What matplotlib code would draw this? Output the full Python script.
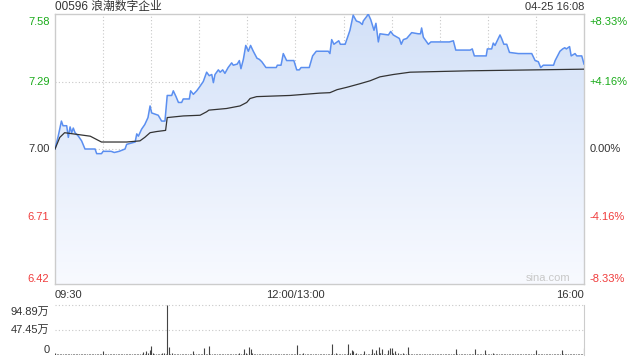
import matplotlib
matplotlib.use("Agg")
import matplotlib.pyplot as plt
import numpy as np
from matplotlib.patches import Polygon
from matplotlib.colors import LinearSegmentedColormap
from matplotlib.transforms import blended_transform_factory, offset_copy

plt.rcParams['font.family'] = ['Liberation Sans', 'Noto Sans CJK SC', 'DejaVu Sans']

title = "00596 浪潮数字企业"
stamp = "04-25 16:08"
prev_close = 7.00
price_ticks = [7.58, 7.29, 7.00, 6.71, 6.42]
pct_labels = ["+8.33%", "+4.16%", "0.00%", "-4.16%", "-8.33%"]
time_labels = ["09:30", "12:00/13:00", "16:00"]
vol_ticks = [94.89, 47.45, 0]
vol_labels = ["94.89万", "47.45万", "0"]

# minute index (0 = 09:30, 150 = 12:00/13:00, 330 = 16:00) and price
price_min = [0, 2, 4, 5, 7.3, 8.3, 9.4, 10.4, 11.4, 12.5, 14.6, 16.6, 18.7, 25, 26, 29,
             30, 35, 37, 40, 43.7, 44.7, 50, 51, 52, 54, 56, 58, 59.3, 60.3, 62.4, 64.4,
             66.5, 68.6, 70, 72.8, 73.8, 75.5, 77, 79, 80, 83.8, 84.6, 86.3, 88.4, 90,
             92.5, 94.6, 96.2, 97.8, 98.8, 99.8, 101.9, 103, 104.6, 106, 108, 110.2,
             111.2, 113.7, 115, 116, 117.5, 119, 120.6, 122, 123.7, 126, 127.5, 129,
             131.6, 138, 138.7, 141, 142.4, 144.5, 149, 150.8, 152.4, 153.5, 158.6,
             160.7, 163, 170.5, 171.5, 172.6, 174, 176, 177, 178, 181, 184, 186, 188,
             190, 191.7, 192.3, 194.5, 195.4, 197, 199, 200.2, 201.7, 202.7, 208,
             209.4, 211, 214.8, 216, 217.3, 219.4, 222.5, 226.6, 228, 228.7, 229.8,
             232.9, 234.5, 246, 248.5, 250, 259, 260.3, 261.6, 269, 269.7, 272.4,
             273.4, 274.5, 275.5, 277.6, 278.6, 280, 281.8, 283.5, 289, 297.4, 299.5,
             301.5, 303, 304.6, 311, 312, 315, 316.7, 318, 319, 321, 322, 324.4, 325.5,
             328.6, 330]
price_val = [7.00, 7.055, 7.12, 7.10, 7.10, 7.05, 7.095, 7.07, 7.09, 7.07, 7.055, 7.035,
             7.00, 7.00, 6.98, 6.98, 6.99, 6.99, 6.985, 6.99, 7.00, 7.02, 7.03, 7.065,
             7.055, 7.085, 7.105, 7.135, 7.185, 7.155, 7.15, 7.145, 7.12, 7.12, 7.23,
             7.23, 7.25, 7.225, 7.20, 7.20, 7.215, 7.215, 7.25, 7.235, 7.25, 7.265,
             7.29, 7.33, 7.315, 7.32, 7.285, 7.32, 7.34, 7.33, 7.34, 7.325, 7.35, 7.37,
             7.36, 7.365, 7.38, 7.345, 7.385, 7.445, 7.42, 7.445, 7.42, 7.39, 7.385,
             7.375, 7.35, 7.35, 7.36, 7.36, 7.41, 7.38, 7.38, 7.34, 7.34, 7.35, 7.35,
             7.40, 7.42, 7.42, 7.41, 7.47, 7.45, 7.46, 7.465, 7.45, 7.45, 7.51, 7.575,
             7.55, 7.545, 7.535, 7.55, 7.57, 7.58, 7.555, 7.51, 7.54, 7.46, 7.495,
             7.49, 7.505, 7.49, 7.475, 7.45, 7.47, 7.475, 7.50, 7.495, 7.495, 7.52,
             7.48, 7.45, 7.46, 7.46, 7.465, 7.425, 7.425, 7.43, 7.40, 7.40, 7.43, 7.43,
             7.455, 7.445, 7.46, 7.49, 7.475, 7.45, 7.45, 7.415, 7.41, 7.41, 7.38,
             7.375, 7.35, 7.36, 7.36, 7.38, 7.42, 7.43, 7.435, 7.43, 7.44, 7.40, 7.41,
             7.40, 7.40, 7.365]

avg_min = [0, 3, 6, 13.5, 22, 29, 44.7, 53, 56, 59.3, 63.4, 69, 70, 80, 90.5, 94.6, 96,
           107, 115.4, 119.6, 121.7, 125.8, 146.6, 165, 171.5, 176, 182, 190, 196.5,
           202.7, 211, 221.5, 240, 259, 300, 330]
avg_val = [7.00, 7.05, 7.07, 7.063, 7.055, 7.03, 7.03, 7.035, 7.05, 7.07, 7.075, 7.08,
           7.135, 7.142, 7.145, 7.16, 7.167, 7.174, 7.185, 7.20, 7.217, 7.225, 7.23,
           7.24, 7.242, 7.255, 7.265, 7.28, 7.293, 7.31, 7.32, 7.33, 7.333, 7.336,
           7.34, 7.343]

# volume per minute, in 万 shares (minute 0..330)
volume = [
    3, 2, 2, 1.5, 2, 1, 2, 1.5, 2, 1,
    1.5, 2, 1, 2, 1.5, 1, 2, 1, 1.5, 2,
    1, 1.5, 2, 1, 1.5, 1, 2, 1.5, 1, 2,
    8, 2, 1.5, 1, 2, 1, 1.5, 1, 1, 1.5,
    1, 1, 1.5, 1, 1, 2, 1, 1.5, 1, 1,
    1, 1.5, 1, 2, 1, 6, 2, 7, 3, 9.5,
    17.6, 3, 2, 1.5, 1, 2, 1.5, 3, 4, 2,
    94.89, 14.6, 2, 4, 1.5, 2, 1, 1.5, 1, 2,
    1.5, 1, 2, 1, 1.5, 2, 8, 1.5, 1, 2,
    1.5, 1, 2, 14, 2, 1.5, 17.7, 2, 1.5, 1,
    2, 1, 1.5, 1, 2, 1.5, 1, 1, 2, 1,
    1, 1.5, 1, 1, 2, 3, 1.5, 2, 11, 3,
    2, 16, 11, 4, 2, 1.5, 1, 2, 1.5, 1,
    1, 1.5, 1, 2, 1, 1.5, 1, 1, 1.5, 1,
    1, 2, 1, 1.5, 1, 1, 1.5, 1, 2, 1,
    1.5, 19, 2, 1, 1.5, 3, 1, 2, 1.5, 1,
    1, 1.5, 2, 1, 1.5, 1, 2, 1, 1.5, 1,
    1, 1.5, 2, 21, 2, 3, 2, 1.5, 2, 1.5,
    2, 1.5, 2, 20, 3, 9, 7, 2, 3, 2,
    1.5, 2, 1.5, 7, 2, 1.5, 2, 1.5, 11, 3,
    10, 2, 16, 3, 11, 2, 1.5, 2, 10, 13,
    12.6, 3, 8, 2, 3, 1.5, 2, 3, 1.5, 2,
    16, 2, 1.5, 2, 1, 1.5, 2, 1, 1.5, 1,
    1.5, 1, 1, 1.5, 1, 2, 1, 1.5, 1, 1,
    1, 1.5, 1, 1, 1.5, 1, 1, 1.5, 1, 1,
    11, 1.5, 1, 1, 1.5, 1, 1, 1.5, 1, 1,
    1.5, 1, 11, 2, 1.5, 1, 1, 1.5, 9, 2,
    1.5, 2, 1, 3, 2, 1.5, 1, 2, 1.5, 1,
    1.5, 1, 1, 1.5, 1, 1, 1, 1.5, 1, 1,
    1, 1.5, 1, 1, 1, 1.5, 1, 1, 1, 1.5,
    9, 2, 1.5, 1, 1, 1.5, 1, 1, 1, 1.5,
    1, 1, 1.5, 1, 1, 1, 9, 1.5, 1, 1,
    1.5, 1, 1, 1, 1.5, 1, 1, 1, 1.5, 1,
    13]

GREEN = "#1aab1a"
RED = "#f03c3c"
GREY_TXT = "#333333"
label_colors = [GREEN, GREEN, GREY_TXT, RED, RED]
GRID = "#c8c8c8"
dot = (0, (1, 2))

fig = plt.figure(figsize=(6.4, 3.6), dpi=100)
W, H = 640.0, 360.0
ax = fig.add_axes([55 / W, 1 - 284 / H, 529 / W, 270 / H])
ax.set_xlim(0, 330)
ax.set_ylim(price_ticks[-1], price_ticks[0])
for s in ax.spines.values():
    s.set_color("#cccccc")
    s.set_linewidth(1)
ax.set_xticks([])
ax.set_yticks([])

# grid
for v in price_ticks[1:-1]:
    ax.axhline(v, color=GRID, lw=0.8, ls=dot, zorder=1)
for m in range(30, 330, 30):
    ax.axvline(m, color=GRID, lw=0.8, ls=dot, zorder=1)

# gradient fill under price
ymin, ymax = price_ticks[-1], price_ticks[0]
grad = np.linspace(0, 1, 256).reshape(-1, 1)
cmap = LinearSegmentedColormap.from_list("g", ["#f8faff", "#d3e1f8"])
im = ax.imshow(grad, extent=[0, 330, ymin, ymax], origin="lower", aspect="auto",
               cmap=cmap, zorder=2)
poly = Polygon(list(zip(price_min, price_val)) + [(price_min[-1], ymin), (price_min[0], ymin)],
               closed=True, facecolor="none", edgecolor="none")
ax.add_patch(poly)
im.set_clip_path(poly)

ax.plot(price_min, price_val, color="#5b8ff0", lw=1.1, zorder=4)
ax.plot(avg_min, avg_val, color="#333333", lw=0.9, zorder=5)

# labels left / right
base = blended_transform_factory(ax.transAxes, ax.transData)
for i, (v, lab, col) in enumerate(zip(price_ticks, pct_labels, label_colors)):
    if i == 0:
        va, dy = "top", -2.5
    elif i == len(price_ticks) - 1:
        va, dy = "bottom", 0
    else:
        va, dy = "center", 0
    lt = offset_copy(base, fig=fig, x=-4, y=dy, units="points")
    rt = offset_copy(base, fig=fig, x=4, y=dy, units="points")
    ax.text(0, v, f"{v:.2f}", transform=lt, ha="right", va=va, color=col, fontsize=8)
    ax.text(1, v, lab, transform=rt, ha="left", va=va, color=col, fontsize=8)

# time labels
bt = offset_copy(blended_transform_factory(ax.transData, ax.transAxes), fig=fig, x=0, y=-4, units="points")
ax.text(0, 0, time_labels[0], transform=bt, ha="left", va="top", fontsize=8, color=GREY_TXT)
ax.text(150, 0, time_labels[1], transform=bt, ha="center", va="top", fontsize=8, color=GREY_TXT)
ax.text(330, 0, time_labels[2], transform=bt, ha="right", va="top", fontsize=8, color=GREY_TXT)

ax.text(0.975, 0.005, "sina.com", transform=ax.transAxes, ha="right", va="bottom",
        fontsize=8, color="#c8c8c8", zorder=6)

# title and stamp
fig.text(55 / W, 1 - 7 / H, title, ha="left", va="center", fontsize=8.5, color=GREY_TXT)
fig.text(584 / W, 1 - 7 / H, stamp, ha="right", va="center", fontsize=8, color=GREY_TXT)

# volume panel
vax = fig.add_axes([55 / W, 1 - 355 / H, 529 / W, 50 / H])
vax.set_xlim(0, 330)
vax.set_ylim(0, vol_ticks[0])
for k, s in vax.spines.items():
    s.set_visible(k == "right")
vax.spines["right"].set_color("#cccccc")
vax.set_xticks([])
vax.set_yticks([])
for v in vol_ticks[:2]:
    vax.axhline(v, color=GRID, lw=0.8, ls=dot, zorder=1, clip_on=False)
vax.vlines(np.arange(len(volume)), 0, volume, color="#444444", lw=0.8, zorder=3)
vbase = blended_transform_factory(vax.transAxes, vax.transData)
for i, (v, lab) in enumerate(zip(vol_ticks, vol_labels)):
    if i == 0:
        va, dy = "top", -1.5
    elif i == len(vol_ticks) - 1:
        va, dy = "bottom", 0
    else:
        va, dy = "center", 0
    vt = offset_copy(vbase, fig=fig, x=-4, y=dy, units="points")
    vax.text(0, v, lab, transform=vt, ha="right", va=va, fontsize=8, color=GREY_TXT)

fig.savefig("out.png", dpi=100)
